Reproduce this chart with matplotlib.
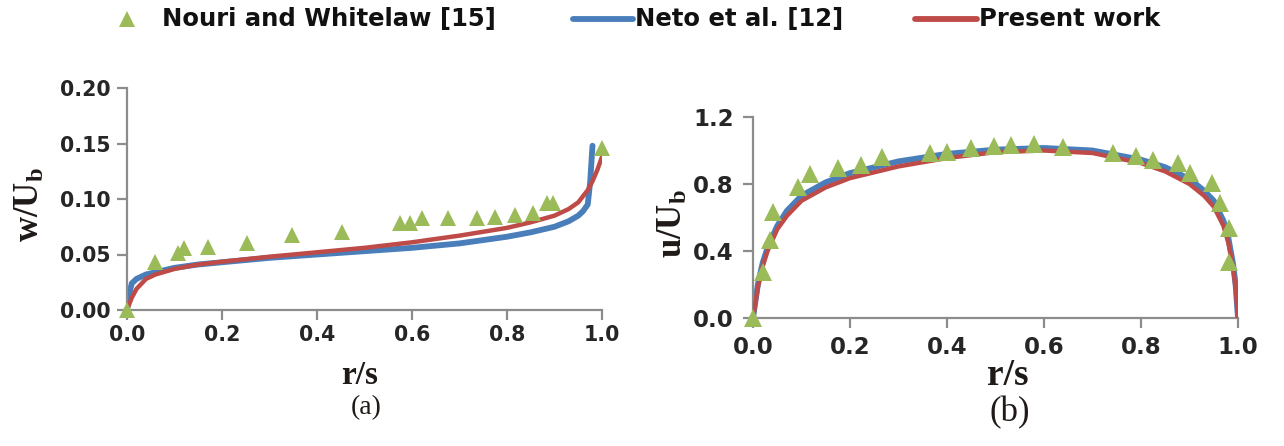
import matplotlib
matplotlib.use("Agg")
import matplotlib.pyplot as plt
from matplotlib.lines import Line2D

plt.rcParams['mathtext.fontset'] = 'custom'
plt.rcParams['mathtext.rm'] = 'Liberation Serif:bold'
plt.rcParams['mathtext.bf'] = 'Liberation Serif:bold'
plt.rcParams['mathtext.it'] = 'Liberation Serif:bold'

# ---------------- data ----------------
# (a) swirl velocity w/Ub
a_exp_x = [0.0, 0.059, 0.108, 0.119, 0.171, 0.252, 0.347, 0.452, 0.575, 0.596,
           0.620, 0.676, 0.736, 0.775, 0.817, 0.855, 0.884, 0.897, 0.999]
a_exp_y = [0.0, 0.0435, 0.051, 0.0556, 0.057, 0.060, 0.0676, 0.0706, 0.078, 0.078,
           0.0826, 0.0826, 0.0826, 0.084, 0.0856, 0.087, 0.096, 0.096, 0.1457]

a_neto_x = [0, 0.005, 0.01, 0.02, 0.04, 0.07, 0.1, 0.15, 0.2, 0.3, 0.4, 0.5, 0.6,
            0.7, 0.8, 0.85, 0.9, 0.93, 0.95, 0.96, 0.97, 0.975, 0.98]
a_neto_y = [0, 0.015, 0.024, 0.028, 0.032, 0.035, 0.038, 0.041, 0.043, 0.047, 0.050,
            0.053, 0.056, 0.060, 0.066, 0.070, 0.075, 0.080, 0.085, 0.089, 0.095,
            0.115, 0.148]

a_pres_x = [0, 0.01, 0.02, 0.04, 0.06, 0.1, 0.15, 0.2, 0.3, 0.4, 0.5, 0.6, 0.7,
            0.8, 0.85, 0.9, 0.93, 0.95, 0.97, 0.98, 0.99, 1.0]
a_pres_y = [0, 0.011, 0.019, 0.028, 0.032, 0.037, 0.041, 0.0435, 0.048, 0.052,
            0.056, 0.061, 0.067, 0.074, 0.079, 0.085, 0.091, 0.097, 0.108, 0.116,
            0.126, 0.138]

# (b) axial velocity u/Ub
b_exp_x = [0.0, 0.021, 0.035, 0.041, 0.093, 0.118, 0.176, 0.222, 0.265, 0.365,
           0.401, 0.449, 0.497, 0.532, 0.579, 0.640, 0.742, 0.790, 0.824, 0.877,
           0.900, 0.946, 0.963, 0.981, 0.981]
b_exp_y = [0.0, 0.276, 0.466, 0.635, 0.780, 0.860, 0.893, 0.913, 0.963, 0.983,
           0.993, 1.013, 1.027, 1.033, 1.037, 1.023, 0.983, 0.967, 0.943, 0.924,
           0.867, 0.804, 0.685, 0.535, 0.336]

b_line_x = [0, 0.005, 0.01, 0.02, 0.03, 0.05, 0.07, 0.1, 0.15, 0.2, 0.3, 0.4, 0.5,
            0.6, 0.7, 0.8, 0.85, 0.9, 0.93, 0.95, 0.97, 0.98, 0.99, 0.995, 1.0]
b_neto_y = [0, 0.1, 0.2, 0.33, 0.42, 0.55, 0.64, 0.73, 0.81, 0.865, 0.935, 0.98,
            1.005, 1.015, 1.0, 0.945, 0.9, 0.83, 0.76, 0.70, 0.58, 0.48, 0.32, 0.2, 0.0]
b_pres_y = [0, 0.09, 0.18, 0.31, 0.40, 0.53, 0.61, 0.70, 0.78, 0.835, 0.905, 0.955,
            0.99, 1.0, 0.985, 0.925, 0.875, 0.80, 0.73, 0.665, 0.55, 0.45, 0.3, 0.18, 0.0]

a_xticks = [0.0, 0.2, 0.4, 0.6, 0.8, 1.0]
a_yticks = [0.00, 0.05, 0.10, 0.15, 0.20]
b_xticks = [0.0, 0.2, 0.4, 0.6, 0.8, 1.0]
b_yticks = [0.0, 0.4, 0.8, 1.2]

legend_labels = ['Nouri and Whitelaw [15]', 'Neto et al. [12]', 'Present work']

# ---------------- style ----------------
GREEN = '#9bbb59'
BLUE = '#4a7ebb'
RED = '#be4b48'
SPINE = '#8c8c8c'
TXT = '#262626'
LBL = '#1f1a17'

fig = plt.figure(figsize=(12.84, 4.46), dpi=100)
axa = fig.add_axes([127/1284, 1-310/446, 475/1284, 222/446])
axb = fig.add_axes([753/1284, 1-318/446, 485/1284, 201/446])


def style(ax, fs, pad_x, pad_y):
    for s in ['top', 'right']:
        ax.spines[s].set_visible(False)
    for s in ['left', 'bottom']:
        ax.spines[s].set_color(SPINE)
        ax.spines[s].set_linewidth(1.6)
    ax.tick_params(axis='both', direction='out', length=7, width=1.6, color=SPINE,
                   labelcolor=TXT, labelsize=fs)
    ax.tick_params(axis='x', pad=pad_x)
    ax.tick_params(axis='y', pad=pad_y)
    for lab in ax.get_xticklabels() + ax.get_yticklabels():
        lab.set_fontfamily('DejaVu Sans')
        lab.set_fontweight('bold')


# panel (a)
axa.plot(a_neto_x, a_neto_y, color=BLUE, lw=4.2, solid_capstyle='round', zorder=2)
axa.plot(a_pres_x, a_pres_y, color=RED, lw=3.2, solid_capstyle='round', zorder=3)
axa.plot(a_exp_x, a_exp_y, linestyle='none', marker='^', ms=12, color=GREEN,
         markeredgewidth=0, clip_on=False, zorder=4)
axa.set_xlim(0, 1)
axa.set_ylim(0, 0.2)
axa.set_xticks(a_xticks)
axa.set_xticklabels([f'{v:.1f}' for v in a_xticks])
axa.set_yticks(a_yticks)
axa.set_yticklabels([f'{v:.2f}' for v in a_yticks])
style(axa, 14.8, 4, 5)
axa.set_xlabel('r/s', family='Liberation Serif', fontweight='bold', fontsize=24,
               color=LBL, va='center', ha='center')
axa.xaxis.set_label_coords(0.4905, -0.293)
axa.set_ylabel(r'$\mathbf{w/U_b}$', fontsize=25, color=LBL, va='center', ha='center')
axa.yaxis.set_label_coords(-0.206, 0.473)

# panel (b)
axb.plot(b_line_x, b_neto_y, color=BLUE, lw=4.2, solid_capstyle='round', zorder=2)
axb.plot(b_line_x, b_pres_y, color=RED, lw=3.2, solid_capstyle='round', zorder=3)
axb.plot(b_exp_x, b_exp_y, linestyle='none', marker='^', ms=12.5, color=GREEN,
         markeredgewidth=0, clip_on=False, zorder=4)
axb.set_xlim(0, 1)
axb.set_ylim(0, 1.2)
axb.set_xticks(b_xticks)
axb.set_xticklabels([f'{v:.1f}' for v in b_xticks])
axb.set_yticks(b_yticks)
axb.set_yticklabels([f'{v:.1f}' for v in b_yticks])
style(axb, 16.5, 6, 7)
axb.set_xlabel('r/s', family='Liberation Serif', fontweight='bold', fontsize=27,
               color=LBL, va='center', ha='center')
axb.xaxis.set_label_coords(0.526, -0.284)
axb.set_ylabel(r'$\mathbf{u/U_b}$', fontsize=25, color=LBL, va='center', ha='center')
axb.yaxis.set_label_coords(-0.168, 0.47)

# panel captions
fig.text(366/1284, 1-408/446, '(a)', family='Liberation Serif', fontsize=20,
         color=LBL, ha='center', va='center')
fig.text(1010/1284, 1-413/446, '(b)', family='Liberation Serif', fontsize=25,
         color=LBL, ha='center', va='center')

# legend (top)
ly = 1 - 19/446
fig.add_artist(Line2D([127/1284], [ly], marker='^', ms=12, color=GREEN,
                      markeredgewidth=0, linestyle='none', transform=fig.transFigure))
fig.text(162/1284, ly, legend_labels[0], family='DejaVu Sans', fontweight='bold',
         fontsize=17.5, color='#111111', ha='left', va='center')
fig.add_artist(Line2D([573/1284, 633/1284], [ly, ly], color=BLUE, lw=4.2,
                      solid_capstyle='round', transform=fig.transFigure))
fig.text(635/1284, ly, legend_labels[1], family='DejaVu Sans', fontweight='bold',
         fontsize=17.5, color='#111111', ha='left', va='center')
fig.add_artist(Line2D([915/1284, 977/1284], [ly, ly], color=RED, lw=4.2,
                      solid_capstyle='round', transform=fig.transFigure))
fig.text(979/1284, ly, legend_labels[2], family='DejaVu Sans', fontweight='bold',
         fontsize=17.5, color='#111111', ha='left', va='center')

fig.savefig('out.png', dpi=100)
